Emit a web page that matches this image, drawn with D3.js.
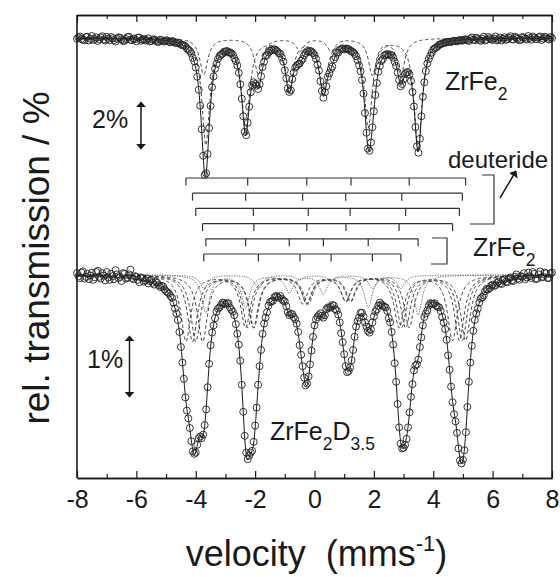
<!DOCTYPE html>
<html>
<head>
<meta charset="utf-8">
<script src="https://cdn.jsdelivr.net/npm/d3@7"></script>
<style>
  body { margin: 0; background: #fff; }
  svg { display: block; font-family: "Liberation Sans", Arial, sans-serif; }
</style>
</head>
<body>
<div id="chart"></div>
<script>
// channel velocities run from -8 to 8 mm/s in 0.05 mm/s steps
const velStart = -8;
const velStep = 0.05;

// measured relative transmission (%), ZrFe2
const zrfe2Counts = [
  99.97, 100.02, 100.06, 99.96, 99.93, 99.91, 100.04, 100.05, 99.90, 99.97,
  100.08, 99.92, 99.96, 100.03, 99.88, 99.95, 100.02, 100.07, 99.94, 99.90,
  100.05, 99.97, 99.91, 100.04, 99.99, 99.92, 99.86, 99.97, 100.03, 100.01,
  99.95, 99.88, 99.89, 99.96, 100.04, 100.05, 99.93, 99.91, 99.98, 99.95,
  99.87, 100.01, 100.02, 99.89, 99.94, 99.96, 99.90, 99.92, 99.99, 99.86,
  99.88, 99.93, 99.95, 99.90, 99.85, 99.84, 99.93, 99.91, 99.87, 99.86,
  99.91, 99.89, 99.85, 99.83, 99.88, 99.86, 99.81, 99.80, 99.82, 99.79,
  99.73, 99.72, 99.71, 99.67, 99.58, 99.53, 99.48, 99.38, 99.21, 99.07,
  98.82, 98.45, 97.93, 97.29, 96.35, 95.29, 94.52, 94.59, 95.36, 96.40,
  97.28, 98.03, 98.46, 98.77, 98.96, 99.16, 99.28, 99.33, 99.37, 99.45,
  99.46, 99.48, 99.42, 99.43, 99.39, 99.33, 99.19, 99.08, 98.90, 98.61,
  98.15, 97.57, 96.87, 96.25, 96.11, 96.61, 97.25, 97.83, 98.12, 98.23,
  98.16, 98.09, 97.96, 98.15, 98.47, 98.84, 99.05, 99.28, 99.32, 99.42,
  99.49, 99.53, 99.51, 99.55, 99.52, 99.47, 99.39, 99.37, 99.22, 99.05,
  98.71, 98.39, 97.99, 97.84, 97.91, 98.35, 98.62, 98.82, 98.88, 98.94,
  98.98, 99.09, 99.16, 99.31, 99.40, 99.47, 99.44, 99.49, 99.45, 99.40,
  99.31, 99.17, 98.94, 98.70, 98.27, 97.88, 97.61, 97.83, 98.07, 98.45,
  98.59, 98.76, 98.86, 99.14, 99.24, 99.42, 99.41, 99.52, 99.55, 99.58,
  99.54, 99.57, 99.57, 99.55, 99.49, 99.47, 99.43, 99.37, 99.27, 99.12,
  98.91, 98.67, 98.32, 97.78, 97.00, 96.21, 95.58, 95.49, 95.82, 96.43,
  97.07, 97.72, 98.20, 98.65, 98.88, 99.08, 99.16, 99.30, 99.33, 99.36,
  99.32, 99.34, 99.30, 99.21, 99.05, 98.88, 98.62, 98.32, 98.07, 98.16,
  98.35, 98.56, 98.62, 98.64, 98.54, 98.28, 97.84, 97.26, 96.44, 95.67,
  95.41, 95.97, 96.87, 97.65, 98.23, 98.68, 98.98, 99.16, 99.30, 99.42,
  99.54, 99.59, 99.62, 99.67, 99.73, 99.75, 99.78, 99.80, 99.81, 99.83,
  99.85, 99.85, 99.84, 99.87, 99.89, 99.87, 99.87, 99.90, 99.92, 99.89,
  99.90, 99.94, 99.95, 99.91, 99.88, 99.96, 100.02, 99.93, 99.91, 100.01,
  99.97, 99.92, 99.89, 99.96, 100.05, 99.90, 99.93, 100.04, 99.99, 99.95,
  99.92, 99.98, 100.06, 99.91, 99.95, 100.02, 99.90, 99.97, 100.03, 99.93,
  99.96, 100.01, 100.07, 99.95, 99.94, 100.05, 100.01, 99.97, 99.91, 99.93,
  100.04, 100.02, 99.97, 99.94, 100.08, 100.00, 99.93, 100.06, 100.02, 99.96,
  99.95, 100.03, 100.06, 99.92, 99.98, 100.05, 100.03, 99.97, 99.94, 100.04,
  100.00
];

// measured relative transmission (%), ZrFe2D3.5
const deuterideCounts = [
  100.03, 99.98, 99.95, 100.04, 100.06, 99.94, 99.97, 100.02, 99.93, 99.99,
  100.04, 99.92, 99.96, 100.05, 100.07, 99.97, 99.94, 100.03, 99.99, 99.91,
  100.05, 99.96, 99.92, 100.02, 99.98, 99.93, 100.08, 100.01, 99.95, 99.97,
  99.90, 100.03, 100.02, 99.94, 99.96, 100.01, 100.09, 99.95, 99.93, 99.98,
  99.97, 99.92, 99.88, 99.96, 99.95, 99.89, 99.91, 99.94, 99.86, 99.90,
  99.92, 99.87, 99.84, 99.89, 99.87, 99.83, 99.80, 99.82, 99.81, 99.76,
  99.73, 99.71, 99.69, 99.65, 99.62, 99.54, 99.44, 99.36, 99.25, 99.05,
  98.80, 98.54, 98.27, 97.96, 97.74, 97.61, 97.45, 97.23, 97.06, 97.02,
  97.04, 97.17, 97.28, 97.31, 97.28, 97.34, 97.50, 97.76, 98.13, 98.52,
  98.83, 99.04, 99.16, 99.28, 99.39, 99.44, 99.46, 99.50, 99.54, 99.53,
  99.51, 99.53, 99.53, 99.46, 99.42, 99.39, 99.33, 99.18, 99.02, 98.84,
  98.57, 98.17, 97.72, 97.32, 97.04, 96.93, 96.99, 97.04, 97.07, 97.22,
  97.49, 97.79, 98.17, 98.48, 98.75, 99.02, 99.19, 99.29, 99.38, 99.49,
  99.55, 99.56, 99.57, 99.63, 99.65, 99.64, 99.62, 99.65, 99.60, 99.57,
  99.56, 99.48, 99.38, 99.33, 99.35, 99.35, 99.30, 99.26, 99.19, 99.05,
  98.83, 98.67, 98.48, 98.29, 98.16, 98.19, 98.31, 98.51, 98.74, 98.97,
  99.16, 99.26, 99.30, 99.33, 99.36, 99.32, 99.29, 99.33, 99.43, 99.46,
  99.45, 99.47, 99.50, 99.49, 99.43, 99.41, 99.34, 99.21, 99.03, 98.88,
  98.68, 98.48, 98.38, 98.40, 98.46, 98.58, 98.75, 98.97, 99.14, 99.23,
  99.29, 99.37, 99.37, 99.31, 99.21, 99.14, 99.07, 99.04, 99.09, 99.21,
  99.31, 99.39, 99.43, 99.49, 99.54, 99.51, 99.49, 99.47, 99.46, 99.40,
  99.28, 99.21, 99.05, 98.84, 98.53, 98.22, 97.85, 97.46, 97.19, 97.11,
  97.12, 97.17, 97.27, 97.46, 97.71, 97.97, 98.18, 98.41, 98.49, 98.51,
  98.59, 98.80, 98.96, 99.16, 99.30, 99.36, 99.41, 99.49, 99.53, 99.52,
  99.52, 99.53, 99.49, 99.47, 99.46, 99.40, 99.30, 99.21, 99.10, 98.92,
  98.66, 98.42, 98.14, 97.88, 97.68, 97.56, 97.37, 97.11, 96.91, 96.86,
  96.92, 97.08, 97.38, 97.80, 98.22, 98.54, 98.82, 99.07, 99.25, 99.36,
  99.44, 99.54, 99.61, 99.63, 99.66, 99.73, 99.77, 99.76, 99.78, 99.82,
  99.84, 99.82, 99.83, 99.87, 99.89, 99.86, 99.85, 99.91, 99.93, 99.89,
  99.88, 99.94, 99.96, 99.91, 99.90, 99.97, 100.01, 99.94, 99.92, 99.98,
  99.97, 100.03, 99.93, 99.96, 100.04, 99.98, 99.95, 100.05, 100.02, 99.93,
  99.94, 100.01, 100.06, 99.96, 99.97, 100.04, 100.03, 99.95, 99.95, 100.02,
  100.04
];

// sextet line positions (mm/s): two Fe sites of ZrFe2, four of the deuteride
const zrSiteA = [-3.66, -2.32, -0.85, 0.30, 1.81, 3.49];
const zrSiteB = [-3.73, -1.89, -0.49, 0.56, 1.95, 2.91];
const deutSites = [
  [-4.33, -2.25, -0.26, 1.23, 3.19, 5.09],
  [-4.11, -2.32, -0.40, 1.05, 2.94, 4.98],
  [-4.00, -2.06, -0.21, 1.20, 3.07, 4.88],
  [-3.77, -2.04, -0.26, 1.06, 2.85, 4.65]
];

// line depths (%)
const zrDepthA = [4.23, 3.61, 1.96, 2.04, 3.53, 4.40];
const zrDepthB = [1.45, 1.45, 0.50, 0.50, 1.45, 1.45];
const zrDepthAinD = [0.63, 0.54, 0.29, 0.31, 0.53, 0.66];
const zrDepthBinD = [0.22, 0.22, 0.075, 0.075, 0.22, 0.22];
const deutDepth = [1.10, 0.86, 0.46, 0.42, 0.86, 1.08];

// Lorentzian half widths (mm/s)
const zrHwhm = 0.16;
const deutHwhm = 0.2;

const xMajor = [-8, -6, -4, -2, 0, 2, 4, 6, 8];
const xMinor = [-7, -5, -3, -1, 1, 3, 5, 7];

const width = 560, height = 577;
const plot = { left: 77, right: 552, top: 15, bottom: 478 };
const ink = "#1a1a1a";

const svg = d3
  .select("#chart")
  .append("svg")
  .attr("width", width)
  .attr("height", height);

const x = d3.scaleLinear().domain([-8, 8]).range([plot.left, plot.right]);
const yTop = d3.scaleLinear().domain([94, 100]).range([188, 38]);
const yBot = d3.scaleLinear().domain([97, 100]).range([455, 275]);

// absorption of one sextet at velocity v
function sextet(pos, depth, hw) {
  return (v) => d3.sum(pos, (p, i) => depth[i] / (1 + ((v - p) / hw) ** 2));
}

const grid = d3.range(-8, 8.0001, 0.02);

const topParts = [
  sextet(zrSiteA, zrDepthA, zrHwhm),
  sextet(zrSiteB, zrDepthB, zrHwhm)
];
const deutParts = deutSites.map((s) => sextet(s, deutDepth, deutHwhm));
const zrInD = [
  sextet(zrSiteA, zrDepthAinD, zrHwhm),
  sextet(zrSiteB, zrDepthBinD, zrHwhm)
];
const botParts = deutParts.concat(zrInD);

function curve(fn, y) {
  return d3
    .line()
    .x((v) => x(v))
    .y((v) => y(100 - fn(v)))(grid);
}

// sub-spectra
const comps = svg.append("g").attr("fill", "none");
topParts.concat(deutParts).forEach((f, i) => {
  comps
    .append("path")
    .attr("d", curve(f, i < 2 ? yTop : yBot))
    .attr("stroke", "#444")
    .attr("stroke-width", 1)
    .attr("stroke-dasharray", "3.5,2.5");
});
zrInD.forEach((f) => {
  comps
    .append("path")
    .attr("d", curve(f, yBot))
    .attr("stroke", "#555")
    .attr("stroke-width", 0.9)
    .attr("stroke-dasharray", "1.2,1.3");
});

// total fits
[[topParts, yTop], [botParts, yBot]].forEach(([parts, y]) => {
  svg
    .append("path")
    .attr("d", curve((v) => d3.sum(parts, (f) => f(v)), y))
    .attr("fill", "none")
    .attr("stroke", ink)
    .attr("stroke-width", 1);
});

// data points
function points(counts, y) {
  svg
    .append("g")
    .selectAll("circle")
    .data(counts)
    .join("circle")
    .attr("cx", (d, i) => x(velStart + i * velStep))
    .attr("cy", (d) => y(d))
    .attr("r", 3.5)
    .attr("fill", "none")
    .attr("stroke", "#222")
    .attr("stroke-width", 0.9);
}
points(zrfe2Counts, yTop);
points(deuterideCounts, yBot);

// line position bars
const sticks = deutSites.concat([zrSiteA, zrSiteB]);
const stickG = svg
  .append("g")
  .attr("stroke", "#333")
  .attr("stroke-width", 1.2)
  .attr("fill", "none");
sticks.forEach((s, r) => {
  const yy = 178 + r * 15.2;
  stickG
    .append("line")
    .attr("x1", x(d3.min(s)))
    .attr("x2", x(d3.max(s)))
    .attr("y1", yy)
    .attr("y2", yy);
  s.forEach((p) => {
    stickG
      .append("line")
      .attr("x1", x(p))
      .attr("x2", x(p))
      .attr("y1", yy)
      .attr("y2", yy + 7.5);
  });
});

// brackets grouping the bars
stickG.append("path").attr("d", "M482,175 H494 V224 H470");
stickG.append("path").attr("d", "M432,238 H447 V264 H431");

// axes
const fmt = (d) => String(d);
const axG = svg.append("g");

axG
  .append("g")
  .attr("transform", `translate(0,${plot.bottom})`)
  .call(d3.axisBottom(x).tickValues(xMajor).tickSizeInner(-7).tickSizeOuter(0).tickPadding(10).tickFormat(fmt))
  .call((g) => g.selectAll("text").attr("font-size", 25).attr("font-family", null).attr("fill", ink).attr("dy", "0.8em"));
axG
  .append("g")
  .attr("transform", `translate(0,${plot.bottom})`)
  .call(d3.axisBottom(x).tickValues(xMinor).tickSizeInner(-4).tickSizeOuter(0).tickFormat(""));
axG
  .append("g")
  .attr("transform", `translate(0,${plot.top})`)
  .call(d3.axisTop(x).tickValues(xMajor).tickSizeInner(-7).tickSizeOuter(0).tickFormat(""));
axG
  .append("g")
  .attr("transform", `translate(0,${plot.top})`)
  .call(d3.axisTop(x).tickValues(xMinor).tickSizeInner(-4).tickSizeOuter(0).tickFormat(""));

axG.selectAll("path.domain").attr("stroke", ink).attr("stroke-width", 1.4);
axG.selectAll(".tick line").attr("stroke", ink).attr("stroke-width", 1.2);

[plot.left, plot.right].forEach((xx) => {
  svg
    .append("line")
    .attr("x1", xx)
    .attr("x2", xx)
    .attr("y1", plot.top)
    .attr("y2", plot.bottom)
    .attr("stroke", ink)
    .attr("stroke-width", 1.6);
});

// axis titles
const xt = svg
  .append("text")
  .attr("x", (plot.left + plot.right) / 2 + 2)
  .attr("y", 566)
  .attr("text-anchor", "middle")
  .attr("font-size", 36)
  .attr("fill", ink)
  .attr("xml:space", "preserve");
xt.append("tspan").text("velocity  (mms");
xt.append("tspan").attr("font-size", 22).attr("dy", -15).text("-1");
xt.append("tspan").attr("dy", 15).text(")");

svg
  .append("text")
  .attr("transform", "translate(49,258) rotate(-90)")
  .attr("text-anchor", "middle")
  .attr("font-size", 37)
  .attr("fill", ink)
  .text("rel. transmission / %");

// arrows
svg
  .append("defs")
  .append("marker")
  .attr("id", "head")
  .attr("viewBox", "0 0 10 10")
  .attr("refX", 9)
  .attr("refY", 5)
  .attr("markerWidth", 4)
  .attr("markerHeight", 7)
  .attr("orient", "auto-start-reverse")
  .attr("preserveAspectRatio", "none")
  .append("path")
  .attr("d", "M0,0 L10,5 L0,10 Z")
  .attr("fill", ink);

function arrow(x1, y1, x2, y2, both) {
  const l = svg
    .append("line")
    .attr("x1", x1)
    .attr("y1", y1)
    .attr("x2", x2)
    .attr("y2", y2)
    .attr("stroke", ink)
    .attr("stroke-width", 1.5)
    .attr("marker-end", "url(#head)");
  if (both) l.attr("marker-start", "url(#head)");
}
arrow(141, 102, 141, 149, true);
arrow(129.5, 336, 129.5, 397, true);
arrow(500, 198, 516, 171, false);

// chemical formula with subscripts: parts alternate normal / subscript
function formula(xp, yp, parts, size) {
  const t = svg
    .append("text")
    .attr("x", xp)
    .attr("y", yp)
    .attr("font-size", size)
    .attr("fill", ink);
  let low = false;
  parts.forEach((s, i) => {
    const sub = i % 2 === 1;
    const span = t.append("tspan").text(s);
    if (sub) span.attr("font-size", size * 0.7);
    if (sub !== low) span.attr("dy", sub ? 10 : -10);
    low = sub;
  });
}

svg.append("text").attr("x", 92).attr("y", 128).attr("font-size", 25).attr("fill", ink).text("2%");
svg.append("text").attr("x", 87).attr("y", 368).attr("font-size", 25).attr("fill", ink).text("1%");

formula(445, 90, ["ZrFe", "2"], 25);
svg.append("text").attr("x", 448).attr("y", 168).attr("font-size", 24).attr("fill", ink).text("deuteride");
formula(473, 256, ["ZrFe", "2"], 25);
formula(270, 440, ["ZrFe", "2", "D", "3.5"], 25);
</script>
</body>
</html>
